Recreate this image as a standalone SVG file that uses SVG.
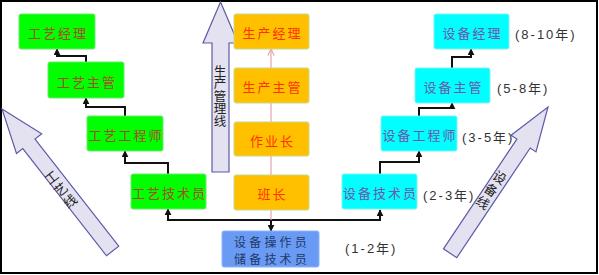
<svg xmlns="http://www.w3.org/2000/svg" width="599" height="275" viewBox="0 0 599 275">
<style>
.bt{font-family:"Noto Sans CJK SC","Noto Sans",sans-serif;font-size:13px;letter-spacing:2px;text-anchor:middle}
.g rect{fill:#00FF00;stroke:#6de86d;stroke-width:1}
.g text{fill:#A84A28}
.o rect{fill:#FFC000;stroke:#c9d98c;stroke-width:1}
.o text{fill:#FF3300}
.c rect{fill:#00FFFF;stroke:#7ff0f0;stroke-width:1}
.c text{fill:#7355A8}
.b rect{fill:#6A9BF4;stroke:#8fb2ff;stroke-width:1}
.b text{fill:#1F3868;font-size:12px;letter-spacing:3.2px}
.yr{font-family:"Liberation Sans","Noto Sans CJK SC",sans-serif;font-size:13px;letter-spacing:2px;fill:#333}
.arr polygon{fill:#E4E1F0;stroke:#5B5BA8;stroke-width:1.2}
.at{font-family:"Noto Sans CJK SC",sans-serif;font-size:12.5px;fill:#222;writing-mode:vertical-rl}
.k{fill:none;stroke:#111;stroke-width:2}
.p{fill:none;stroke:#E8A3A8;stroke-width:1.2}
</style>
<defs>
<marker id="ah" markerUnits="userSpaceOnUse" markerWidth="7" markerHeight="7" viewBox="0 0 10 10" refX="9" refY="5" orient="auto">
<path d="M0,0 L10,5 L0,10 z" fill="#111"/>
</marker>
<marker id="ph" markerUnits="userSpaceOnUse" markerWidth="8" markerHeight="8" viewBox="0 0 10 10" refX="9" refY="5" orient="auto">
<path d="M1,1 L9,5 L1,9" fill="none" stroke="#E8A3A8" stroke-width="1.5"/>
</marker>
</defs>
<rect x="1" y="1" width="596" height="272" fill="#fff" stroke="#000" stroke-width="2"/>

<g id="arrow-gongyi" class="arr" transform="translate(2,109) rotate(-38)">
<polygon points="0,0 16,44 7.5,44 7.5,180 -8,180 -8,44 -16,44"/>
<text class="at" x="-3" y="78" style="font-size:13px;letter-spacing:2px">工艺线</text>
</g>
<g id="arrow-shengchan" class="arr">
<polygon points="220.5,2 238,43 229,43 229,172 212,172 212,43 203,43"/>
<text class="at" x="220" y="64.5">生产管理线</text>
</g>
<g id="arrow-shebei" class="arr" transform="translate(548,107) rotate(33.8)">
<polygon points="0,0 15,44 8,44 8,176 -8,176 -8,44 -15,44"/>
<text class="at" x="-1" y="79" style="font-size:13px;letter-spacing:2px">设备线</text>
</g>

<g id="connectors">
<path class="k" d="M168,174 V163 H125 V151" marker-end="url(#ah)"/>
<path class="k" d="M125,116 V107 H86 V98" marker-end="url(#ah)"/>
<path class="k" d="M86,62 V56 H57 V49" marker-end="url(#ah)"/>
<path class="k" d="M380,174 V162 H419 V151" marker-end="url(#ah)"/>
<path class="k" d="M419,116 V108 H452 V103" marker-end="url(#ah)"/>
<path class="k" d="M452,68 V57 H471 V49" marker-end="url(#ah)"/>
<path class="k" d="M271,220 H168 V209" marker-end="url(#ah)"/>
<path class="k" d="M271,220 H380 V210" marker-end="url(#ah)"/>
<path class="k" d="M271,220 V231" marker-end="url(#ah)"/>
<path class="p" d="M271,210 V220"/>
<path class="p" d="M271,175 V156"/>
<path class="p" d="M271,122 V103"/>
<path class="p" d="M271,68 V49" marker-end="url(#ph)"/>
</g>

<g id="n-gy-jl" class="g"><rect x="19" y="14" width="76" height="35" rx="2"/><text class="bt" x="58" y="38">工艺经理</text></g>
<g id="n-gy-zg" class="g"><rect x="48" y="62" width="76" height="36" rx="2"/><text class="bt" x="87" y="86.5">工艺主管</text></g>
<g id="n-gy-gcs" class="g"><rect x="87" y="116" width="76" height="35" rx="2"/><text class="bt" x="126" y="140">工艺工程师</text></g>
<g id="n-gy-jsy" class="g"><rect x="131" y="174" width="75" height="35" rx="2"/><text class="bt" x="169.5" y="198">工艺技术员</text></g>

<g id="n-sc-jl" class="o"><rect x="234" y="14" width="75" height="35" rx="2"/><text class="bt" x="272.5" y="38">生产经理</text></g>
<g id="n-sc-zg" class="o"><rect x="234" y="68" width="75" height="35" rx="2"/><text class="bt" x="272.5" y="92">生产主管</text></g>
<g id="n-zyz" class="o"><rect x="234" y="122" width="75" height="34" rx="2"/><text class="bt" x="272.5" y="145.5">作业长</text></g>
<g id="n-bz" class="o"><rect x="234" y="175" width="75" height="35" rx="2"/><text class="bt" x="272.5" y="199">班长</text></g>

<g id="n-czy" class="b"><rect x="222" y="231" width="97" height="36" rx="2"/><text class="bt"><tspan x="272" y="246.5">设备操作员</tspan><tspan x="272" y="264">储备技术员</tspan></text></g>

<g id="n-sb-jl" class="c"><rect x="434" y="14" width="75" height="35" rx="2"/><text class="bt" x="472.5" y="38">设备经理</text></g>
<g id="n-sb-zg" class="c"><rect x="415" y="68" width="75" height="35" rx="2"/><text class="bt" x="453.5" y="92">设备主管</text></g>
<g id="n-sb-gcs" class="c"><rect x="381" y="116" width="76" height="35" rx="2"/><text class="bt" x="420" y="140">设备工程师</text></g>
<g id="n-sb-jsy" class="c"><rect x="342" y="174" width="75" height="35" rx="2"/><text class="bt" x="380.5" y="198">设备技术员</text></g>

<g id="years">
<text class="yr" x="515" y="39">(8-10年)</text>
<text class="yr" x="497" y="93">(5-8年)</text>
<text class="yr" x="462" y="142">(3-5年)</text>
<text class="yr" x="423" y="200">(2-3年)</text>
<text class="yr" x="345" y="253">(1-2年)</text>
</g>
</svg>
